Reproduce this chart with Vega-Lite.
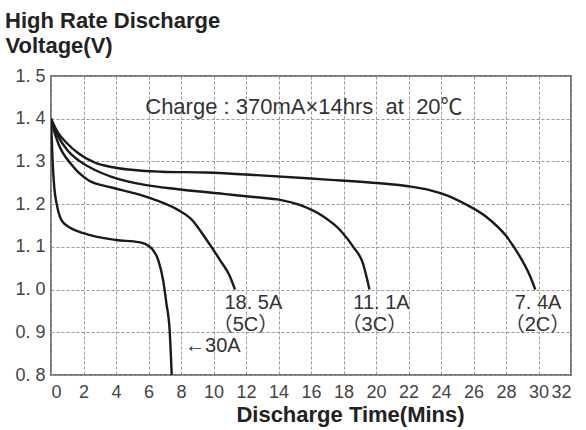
{
  "$schema": "https://vega.github.io/schema/vega-lite/v6.json",
  "width": 520,
  "height": 299,
  "autosize": "none",
  "padding": {"left": 51, "top": 76, "right": 15, "bottom": 55},
  "background": "white",
  "title": {
    "text": "High Rate Discharge",
    "anchor": "start",
    "frame": "group",
    "dx": -46,
    "dy": 21,
    "font": "Liberation Sans",
    "fontSize": 22,
    "fontWeight": "bold",
    "color": "#222",
    "baseline": "alphabetic",
    "offset": 5
  },
  "config": {
    "view": {"stroke": "#777", "strokeWidth": 2},
    "font": "Liberation Sans",
    "axis": {
      "domain": false,
      "ticks": false,
      "grid": true,
      "gridColor": "#999",
      "gridDash": [3, 2],
      "gridWidth": 1,
      "labelFont": "Liberation Sans",
      "labelFontSize": 18,
      "labelColor": "#444",
      "labelOverlap": false,
      "titleFont": "Liberation Sans",
      "titleFontWeight": "bold",
      "titleColor": "#222"
    }
  },
  "datasets": {
    "curves": [
      {"series": "2C", "t": 0, "v": 1.4},
      {"series": "2C", "t": 0.45, "v": 1.366},
      {"series": "2C", "t": 1.0, "v": 1.342},
      {"series": "2C", "t": 1.68, "v": 1.319},
      {"series": "2C", "t": 2.7, "v": 1.297},
      {"series": "2C", "t": 3.7, "v": 1.287},
      {"series": "2C", "t": 4.76, "v": 1.281},
      {"series": "2C", "t": 6.8, "v": 1.276},
      {"series": "2C", "t": 9.5, "v": 1.274},
      {"series": "2C", "t": 12.66, "v": 1.268},
      {"series": "2C", "t": 16.76, "v": 1.258},
      {"series": "2C", "t": 20.25, "v": 1.249},
      {"series": "2C", "t": 22.0, "v": 1.242},
      {"series": "2C", "t": 23.3, "v": 1.233},
      {"series": "2C", "t": 24.4, "v": 1.22},
      {"series": "2C", "t": 25.4, "v": 1.202},
      {"series": "2C", "t": 26.8, "v": 1.17},
      {"series": "2C", "t": 28.04, "v": 1.124},
      {"series": "2C", "t": 28.86, "v": 1.077},
      {"series": "2C", "t": 29.5, "v": 1.03},
      {"series": "2C", "t": 29.8, "v": 1.0},
      {"series": "3C", "t": 0, "v": 1.4},
      {"series": "3C", "t": 0.45, "v": 1.358},
      {"series": "3C", "t": 1.0, "v": 1.327},
      {"series": "3C", "t": 1.68, "v": 1.303},
      {"series": "3C", "t": 2.7, "v": 1.28},
      {"series": "3C", "t": 3.73, "v": 1.264},
      {"series": "3C", "t": 5.78, "v": 1.245},
      {"series": "3C", "t": 7.83, "v": 1.235},
      {"series": "3C", "t": 10.6, "v": 1.224},
      {"series": "3C", "t": 12.66, "v": 1.216},
      {"series": "3C", "t": 14.1, "v": 1.21},
      {"series": "3C", "t": 15.3, "v": 1.198},
      {"series": "3C", "t": 16.76, "v": 1.171},
      {"series": "3C", "t": 17.8, "v": 1.139},
      {"series": "3C", "t": 18.6, "v": 1.1},
      {"series": "3C", "t": 19.2, "v": 1.061},
      {"series": "3C", "t": 19.6, "v": 1.0},
      {"series": "5C", "t": 0, "v": 1.4},
      {"series": "5C", "t": 0.2, "v": 1.37},
      {"series": "5C", "t": 0.45, "v": 1.342},
      {"series": "5C", "t": 1.27, "v": 1.292},
      {"series": "5C", "t": 2.3, "v": 1.256},
      {"series": "5C", "t": 3.73, "v": 1.239},
      {"series": "5C", "t": 5.17, "v": 1.225},
      {"series": "5C", "t": 6.4, "v": 1.21},
      {"series": "5C", "t": 7.83, "v": 1.186},
      {"series": "5C", "t": 8.6, "v": 1.166},
      {"series": "5C", "t": 9.58, "v": 1.116},
      {"series": "5C", "t": 10.4, "v": 1.069},
      {"series": "5C", "t": 11.02, "v": 1.03},
      {"series": "5C", "t": 11.32, "v": 1.0},
      {"series": "30A", "t": 0, "v": 1.4},
      {"series": "30A", "t": 0.1, "v": 1.3},
      {"series": "30A", "t": 0.2, "v": 1.24},
      {"series": "30A", "t": 0.35, "v": 1.2},
      {"series": "30A", "t": 0.55, "v": 1.17},
      {"series": "30A", "t": 0.8, "v": 1.155},
      {"series": "30A", "t": 1.0, "v": 1.149},
      {"series": "30A", "t": 2.0, "v": 1.132},
      {"series": "30A", "t": 4.0, "v": 1.116},
      {"series": "30A", "t": 5.4, "v": 1.111},
      {"series": "30A", "t": 5.8, "v": 1.107},
      {"series": "30A", "t": 6.2, "v": 1.096},
      {"series": "30A", "t": 6.6, "v": 1.069},
      {"series": "30A", "t": 6.9, "v": 1.022},
      {"series": "30A", "t": 7.1, "v": 0.968},
      {"series": "30A", "t": 7.3, "v": 0.905},
      {"series": "30A", "t": 7.43, "v": 0.8}
    ],
    "centerLabels": [
      {"label": "18. 5A", "t": 12.45, "v": 0.968},
      {"label": "（5C）", "t": 11.97, "v": 0.916},
      {"label": "11. 1A", "t": 20.34, "v": 0.968},
      {"label": "（3C）", "t": 19.9, "v": 0.916},
      {"label": "7. 4A", "t": 29.97, "v": 0.968},
      {"label": "（2C）", "t": 29.94, "v": 0.916}
    ],
    "leftLabels": [
      {"label": "←30A", "t": 8.25, "v": 0.867, "size": 20},
      {"label": "Charge : 370mA×14hrs\u00a0\u00a0at\u00a0\u00a020℃", "t": 5.8, "v": 1.4285, "size": 22}
    ]
  },
  "encoding": {
    "x": {
      "field": "t",
      "type": "quantitative",
      "scale": {"domain": [0, 32], "nice": false, "zero": false},
      "axis": {
        "values": [0, 2, 4, 6, 8, 10, 12, 14, 16, 18, 20, 22, 24, 26, 28, 30, 32],
        "labelOverlap": false,
        "labelPadding": 8,
        "labelBaseline": "top",
        "title": "Discharge Time(Mins)",
        "titleFontSize": 22,
        "titleX": 299,
        "titleY": 46,
        "titleAnchor": "middle",
        "titleAlign": "center",
        "titleBaseline": "alphabetic"
      }
    },
    "y": {
      "field": "v",
      "type": "quantitative",
      "scale": {"domain": [0.8, 1.5], "nice": false, "zero": false},
      "axis": {
        "values": [0.8, 0.9, 1.0, 1.1, 1.2, 1.3, 1.4, 1.5],
        "labelExpr": "replace(format(datum.value, '.1f'), '.', '. ')",
        "labelPadding": 6,
        "title": "Voltage(V)",
        "titleFontSize": 22,
        "titleAngle": 0,
        "titleAlign": "left",
        "titleBaseline": "alphabetic",
        "titleX": -46,
        "titleY": -24
      }
    }
  },
  "layer": [
    {
      "data": {"name": "curves"},
      "mark": {"type": "line", "interpolate": "monotone", "color": "#1a1a1a", "strokeWidth": 2.4, "clip": true},
      "encoding": {
        "detail": {"field": "series"}
      }
    },
    {
      "data": {"name": "centerLabels"},
      "mark": {"type": "text", "font": "Liberation Sans, Noto Sans CJK SC", "fontSize": 20, "color": "#333", "baseline": "middle", "align": "center"},
      "encoding": {
        "text": {"field": "label"}
      }
    },
    {
      "data": {"name": "leftLabels"},
      "mark": {"type": "text", "font": "Liberation Sans, Noto Sans CJK SC", "color": "#333", "baseline": "middle", "align": "left"},
      "encoding": {
        "text": {"field": "label"},
        "size": {"field": "size", "type": "quantitative", "scale": null}
      }
    }
  ]
}
